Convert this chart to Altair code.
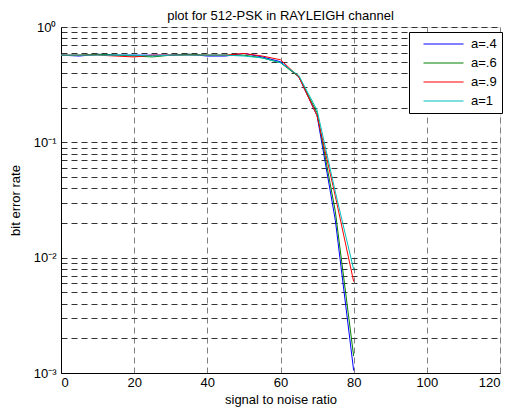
import altair as alt
import pandas as pd

snr = [0, 5, 10, 15, 20, 25, 30, 35, 40, 45, 50, 55, 60, 65, 70, 75, 80]
ber_a04 = [0.57, 0.56, 0.58, 0.57, 0.57, 0.57, 0.57, 0.58, 0.56, 0.56, 0.59, 0.55, 0.50, 0.37, 0.17, 0.021, 0.00105]
ber_a06 = [0.57, 0.57, 0.58, 0.57, 0.56, 0.55, 0.57, 0.58, 0.57, 0.57, 0.57, 0.54, 0.49, 0.37, 0.18, 0.025, 0.0014]
ber_a09 = [0.57, 0.57, 0.57, 0.56, 0.55, 0.57, 0.57, 0.57, 0.57, 0.57, 0.59, 0.56, 0.52, 0.37, 0.17, 0.034, 0.0062]
ber_a1 = [0.57, 0.57, 0.57, 0.57, 0.57, 0.56, 0.57, 0.57, 0.57, 0.57, 0.56, 0.54, 0.49, 0.38, 0.19, 0.037, 0.0079]

series_names = ["a=.4", "a=.6", "a=.9", "a=1"]
series_colors = ["#0000ff", "#008000", "#ff0000", "#00bfbf"]
x_ticks = [0, 20, 40, 60, 80, 100, 120]
y_grid = [m * 10 ** e for e in (-3, -2, -1) for m in range(1, 10)] + [1]

rows = []
for name, vals in zip(series_names, [ber_a04, ber_a06, ber_a09, ber_a1]):
    for i, (x, y) in enumerate(zip(snr, vals)):
        rows.append({"snr": x, "ber": y, "series": name, "order": i})
df = pd.DataFrame(rows)

FONT = "Liberation Sans"
FS = 13

label_expr = ("datum.value > 0.95 ? '10⁰' : (abs(datum.value - 0.1) < 1e-6 ? '10⁻¹' : "
              "(abs(datum.value - 0.01) < 1e-7 ? '10⁻²' : (abs(datum.value - 0.001) < 1e-8 ? '10⁻³' : '')))")

chart = alt.Chart(df).mark_line(strokeWidth=1, clip=True).encode(
    x=alt.X("snr:Q",
            scale=alt.Scale(domain=[0, 120], nice=False),
            axis=alt.Axis(values=x_ticks, title="signal to noise ratio", grid=True,
                          gridColor="#808080", gridDash=[6, 4], gridWidth=1,
                          ticks=False, labelPadding=3, titlePadding=4,
                          domainColor="black", labelFontSize=FS, titleFontSize=FS,
                          titleFontWeight="normal", labelColor="black", titleColor="black",
                          labelFont=FONT, titleFont=FONT)),
    y=alt.Y("ber:Q",
            scale=alt.Scale(type="log", domain=[0.001, 1], nice=False),
            axis=alt.Axis(values=y_grid, labelExpr=label_expr, title="bit error rate",
                          grid=True, gridColor="#333333", gridDash=[6, 4], gridWidth=1,
                          ticks=False, labelPadding=5, titleX=-39,
                          domainColor="black", labelFontSize=FS, titleFontSize=FS,
                          titleFontWeight="normal", labelColor="black", titleColor="black",
                          labelFont=FONT, titleFont=FONT, labelOverlap=False)),
    color=alt.Color("series:N",
                    scale=alt.Scale(domain=series_names, range=series_colors),
                    legend=alt.Legend(title=None, orient="none", legendX=348, legendY=5,
                                      symbolType="M0.75,0.125H10.75", symbolSize=64,
                                      symbolStrokeWidth=1.2,
                                      strokeColor="black", fillColor="white", padding=5,
                                      rowPadding=5, labelOffset=44, labelFontSize=FS,
                                      labelFont=FONT, labelColor="black")),
    order="order:Q",
).properties(
    width=439, height=346,
    title=alt.Title("plot for 512-PSK in RAYLEIGH channel", fontSize=FS, font=FONT,
                    fontWeight="normal", color="black", offset=-2),
    autosize=alt.AutoSizeParams(type="none"),
    padding={"left": 53, "top": 19, "right": 6, "bottom": 40},
).configure_view(stroke="black", strokeWidth=1).configure(background="white")

chart.save("out.html", embed_options={"renderer": "svg", "actions": False})
